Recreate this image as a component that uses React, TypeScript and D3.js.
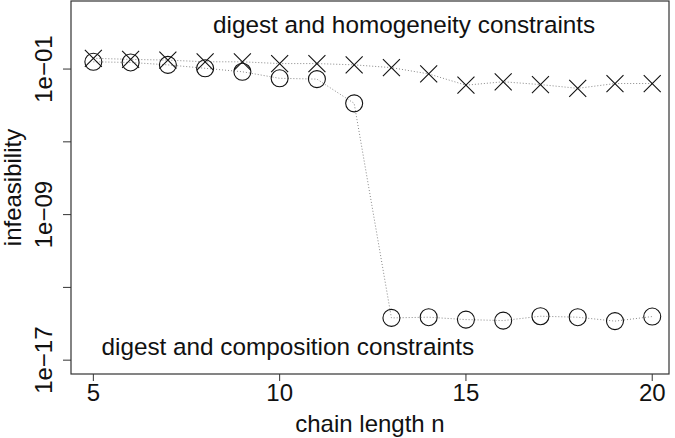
import React from 'react';
import * as d3 from 'd3';

const width = 675;
const height = 438;

// plot box in pixels
const box = { left: 71, right: 669, top: 1, bottom: 374 };

// chain length n
const chainLength = [5, 6, 7, 8, 9, 10, 11, 12, 13, 14, 15, 16, 17, 18, 19, 20];

// digest and homogeneity constraints (crosses)
const homogeneity = [3.9e-1, 3.4e-1, 3.1e-1, 2.5e-1, 2.5e-1, 2.0e-1, 2.0e-1, 1.7e-1,
  1.2e-1, 5.4e-2, 1.3e-2, 2.0e-2, 1.4e-2, 8.7e-3, 1.6e-2, 1.6e-2];

// digest and composition constraints (circles)
const composition = [2.5e-1, 2.3e-1, 1.7e-1, 1.1e-1, 7.1e-2, 3.1e-2, 2.8e-2, 1.3e-3,
  2.1e-15, 2.3e-15, 1.7e-15, 1.5e-15, 2.6e-15, 2.3e-15, 1.4e-15, 2.5e-15];

const xTicks = [5, 10, 15, 20];
const yTicks = [1e-1, 1e-5, 1e-9, 1e-13, 1e-17];
const yTickLabels = ['1e\u221201', '', '1e\u221209', '', '1e\u221217'];

const font = '"Liberation Sans", Arial, sans-serif';

const App = () => {
  const xScale = d3.scaleLinear()
    .domain([4.4, 20.45])
    .range([box.left, box.right]);

  const yScale = d3.scaleLog()
    .domain([Math.pow(10, 2.74), Math.pow(10, -17.76)])
    .range([box.top, box.bottom]);

  const line = d3.line<number>()
    .x((d, i) => xScale(chainLength[i]))
    .y(d => yScale(d));

  const cross = 8.5;

  return (
    <svg width={width} height={height}
      style={{ position: 'absolute', left: 0, top: 0, background: '#fff' }}>
      <g fontFamily={font} fill="#111">
        {/* dotted connecting lines */}
        <path d={line(homogeneity) || ''} fill="none" stroke="#888" strokeWidth={1} strokeDasharray="1,2" />
        <path d={line(composition) || ''} fill="none" stroke="#888" strokeWidth={1} strokeDasharray="1,2" />

        {/* crosses */}
        {homogeneity.map((v, i) => {
          const cx = xScale(chainLength[i]);
          const cy = yScale(v);
          return (
            <path key={'x' + i}
              d={`M${cx - cross},${cy - cross}L${cx + cross},${cy + cross}M${cx - cross},${cy + cross}L${cx + cross},${cy - cross}`}
              stroke="#111" strokeWidth={1.1} fill="none" />
          );
        })}

        {/* circles */}
        {composition.map((v, i) => (
          <circle key={'o' + i} cx={xScale(chainLength[i])} cy={yScale(v)} r={8.5}
            fill="none" stroke="#111" strokeWidth={1.1} />
        ))}

        {/* box */}
        <rect x={box.left} y={box.top} width={box.right - box.left} height={box.bottom - box.top}
          fill="none" stroke="#333" strokeWidth={1.2} />

        {/* x axis */}
        {xTicks.map(t => (
          <g key={'xt' + t}>
            <line x1={xScale(t)} x2={xScale(t)} y1={box.bottom} y2={box.bottom + 7} stroke="#333" />
            <text x={xScale(t)} y={401} textAnchor="middle" fontSize={24}>{t}</text>
          </g>
        ))}
        <text x={(box.left + box.right) / 2} y={432} textAnchor="middle" fontSize={24}>chain length n</text>

        {/* y axis */}
        {yTicks.map((t, i) => (
          <g key={'yt' + i}>
            <line x1={box.left - 8} x2={box.left} y1={yScale(t)} y2={yScale(t)} stroke="#333" />
            <text transform={`translate(51.5,${yScale(t)}) rotate(-90)`} textAnchor="middle" fontSize={24}>
              {yTickLabels[i]}
            </text>
          </g>
        ))}
        <text transform={`translate(21,${(box.top + box.bottom) / 2}) rotate(-90)`} textAnchor="middle" fontSize={24}>
          infeasibility
        </text>

        {/* annotations */}
        <text x={213} y={33} fontSize={24.3}>digest and homogeneity constraints</text>
        <text x={101.5} y={355} fontSize={24.3}>digest and composition constraints</text>
      </g>
    </svg>
  );
};

export default App;
